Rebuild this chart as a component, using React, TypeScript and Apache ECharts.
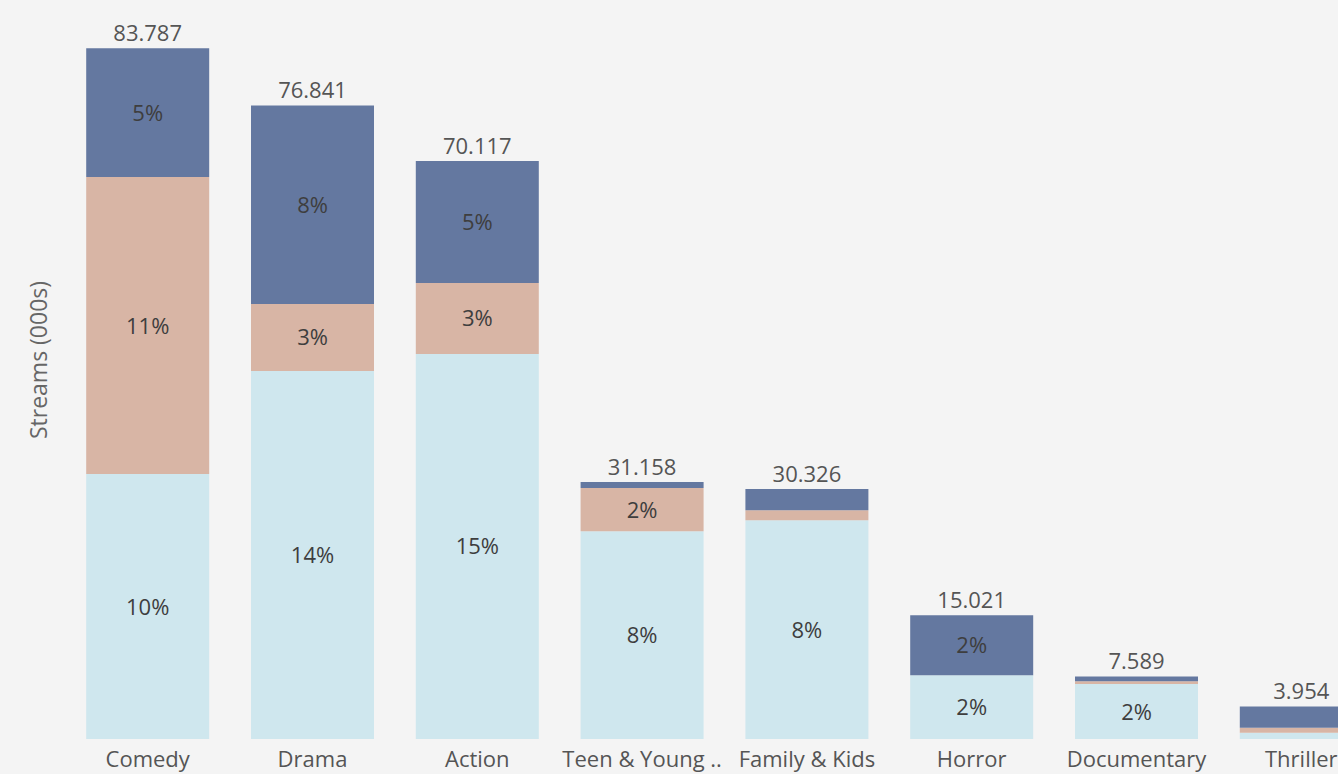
import React, { useEffect, useRef } from "react";
import * as echarts from "echarts";

const categories = ["Comedy", "Drama", "Action", "Teen & Young Adult", "Family & Kids", "Horror", "Documentary", "Thriller"];
const totals = [83.787, 76.841, 70.117, 31.158, 30.326, 15.021, 7.589, 3.954];
const lightSeg = [32.14, 44.64, 46.7, 25.19, 26.53, 7.73, 6.67, 0.76];
const peachSeg = [36.03, 8.13, 8.61, 5.25, 1.21, 0, 0.33, 0.61];
const darkSeg = [15.617, 24.071, 14.807, 0.718, 2.586, 7.291, 0.589, 2.584];
const yAxisTitle = "Streams (000s)";

const FONT = "'Open Sans', 'Noto Sans', sans-serif";

export default function App() {
  const ref = useRef<HTMLDivElement>(null);
  useEffect(() => {
    if (!ref.current) return;
    const chart = echarts.init(ref.current, undefined, { renderer: "svg" });
    const grandTotal = totals.reduce((a, b) => a + b, 0);
    const pctLabel = (p: any) => (p.value >= 4 ? Math.round((p.value / grandTotal) * 100) + "%" : "");
    const segLabel = {
      show: true,
      position: "inside",
      offset: [0, -1],
      fontSize: 22,
      fontFamily: FONT,
      color: "#3e3e3e",
      formatter: pctLabel,
    };
    const barW = 123;
    chart.setOption({
      animation: false,
      backgroundColor: "#f4f4f4",
      grid: { left: 65.3, width: 1318.4, top: 13.5, bottom: 35, containLabel: false, outerBoundsMode: "none" },
      xAxis: {
        type: "category",
        data: categories,
        axisLine: { show: false },
        axisTick: { show: false },
        axisLabel: {
          interval: 0,
          fontSize: 22,
          fontFamily: FONT,
          color: "#555555",
          margin: 8,
          width: 166,
          overflow: "truncate",
          ellipsis: "..",
        },
      },
      yAxis: { type: "value", min: 0, max: 88, show: false },
      graphic: [
        {
          type: "text",
          x: 38,
          y: 360,
          rotation: Math.PI / 2,
          style: {
            text: yAxisTitle,
            fontSize: 23,
            fontFamily: FONT,
            fill: "#666666",
            align: "center",
            verticalAlign: "middle",
          },
        },
      ],
      series: [
        { name: "Light", type: "bar", stack: "s", barWidth: barW, data: lightSeg, itemStyle: { color: "#cfe7ee" }, label: segLabel },
        { name: "Peach", type: "bar", stack: "s", barWidth: barW, data: peachSeg, itemStyle: { color: "#d8b5a5" }, label: segLabel },
        { name: "Dark", type: "bar", stack: "s", barWidth: barW, data: darkSeg, itemStyle: { color: "#6478a0" }, label: segLabel },
        {
          name: "Total",
          type: "bar",
          stack: "s",
          barWidth: barW,
          data: totals.map(() => 0),
          itemStyle: { color: "transparent" },
          label: {
            show: true,
            position: "top",
            distance: 5,
            fontSize: 22,
            fontFamily: FONT,
            color: "#555555",
            formatter: (p: any) => totals[p.dataIndex].toFixed(3),
          },
        },
      ],
    });
    return () => chart.dispose();
  }, []);
  return (
    <div style={{ position: "fixed", left: 0, top: 0, width: 1338, height: 774, overflow: "hidden", background: "#f4f4f4" }}>
      <div ref={ref} style={{ width: 1420, height: 774 }} />
    </div>
  );
}
